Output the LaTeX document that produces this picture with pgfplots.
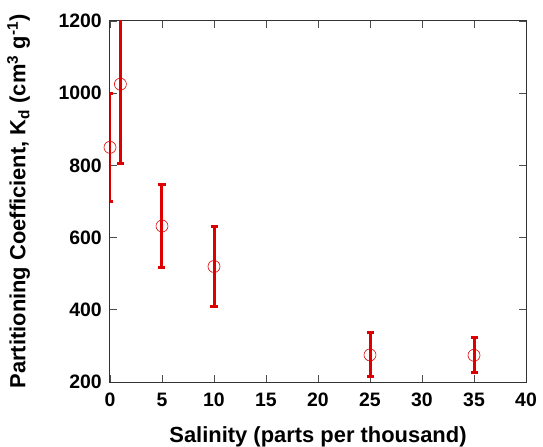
\documentclass[border=0pt]{standalone}
\usepackage{pgfplots}
\pgfplotsset{compat=1.18}
\usepackage{fontspec}
\setmainfont{Liberation Sans}
\definecolor{barred}{RGB}{222,0,0}
\begin{document}
\begin{tikzpicture}
\begin{axis}[
  name=ax,
  scale only axis,
  width=416bp, height=361bp,
  xmin=0, xmax=40, ymin=200, ymax=1200,
  xtick={0,5,...,40}, ytick={200,400,...,1200},
  tick align=inside,
  major tick length=7bp,
  tick style={black!70, line width=0.8bp},
  axis line style={black!80, line width=1bp},
  tick label style={font=\fontsize{19.5}{21}\selectfont\bfseries, inner sep=0pt},
  xticklabel style={yshift=-11bp},
  yticklabel style={xshift=-8bp},
  /pgf/number format/assume math mode=true,
  /pgf/number format/1000 sep={},
  label style={font=\fontsize{22}{24}\selectfont\bfseries, inner sep=0pt},
  xlabel style={at={(axis description cs:0.5,-0.122)}, anchor=north},
  ylabel style={at={(axis description cs:-0.2476,0.5)}, anchor=north},
  xlabel={Salinity (parts per thousand)},
  ylabel={Partitioning Coefficient, K\textsubscript{d} (cm\textsuperscript{3} g\textsuperscript{-1})},
]
\addplot[only marks, mark=o, mark size=6bp, color=barred,
  mark options={line width=0.6bp},
  error bars/.cd, y dir=both, y explicit,
  error bar style={line width=3bp, color=barred},
  error mark options={rotate=90, mark size=3.5bp, line width=3bp, color=barred}]
  table[x=x, y=y, y error=e] {
  x  y    e
  0  850  150
  1  1025 220
  5  632  114
  10 520  111
  25 275  61
  35 274  48
  };
\end{axis}
\path (ax.south west) ++(-110bp,-63bp) rectangle ++(543bp,445bp);
\end{tikzpicture}
\end{document}
